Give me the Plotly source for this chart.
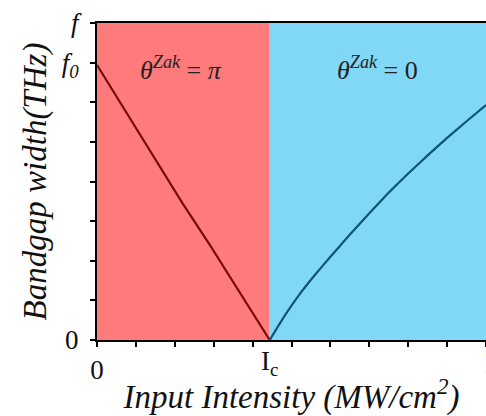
import plotly.graph_objects as go

# Data
I_c = 4.44
x_max = 10
red_x = [0.0, 0.8, 1.5, 2.2, 2.9, 3.6, 4.44]
red_y = [6.94, 5.66, 4.55, 3.45, 2.4, 1.3, 0.0]
blue_x = [4.44, 4.83, 5.22, 5.60, 6.0, 6.5, 7.0, 7.5, 8.0, 8.5, 9.0, 9.5, 10.0]
blue_y = [0.0, 0.62, 1.17, 1.64, 2.1, 2.66, 3.2, 3.72, 4.2, 4.66, 5.1, 5.52, 5.93]

x_tickvals = list(range(0, 11))
x_ticktext = ["0", "", "", "", "", "", "", "", "", "", ""]
y_tickvals = list(range(0, 9))
y_ticktext = ["0", "", "", "", "", "", "", "<i>f</i><sub><i>0</i></sub>", "<i>f</i>"]

font_family = "Times New Roman, Liberation Serif, serif"

fig = go.Figure()
fig.add_trace(go.Scatter(x=red_x, y=red_y, mode="lines",
                         line=dict(color="#7a0a0a", width=2.2),
                         showlegend=False))
fig.add_trace(go.Scatter(x=blue_x, y=blue_y, mode="lines",
                         line=dict(color="#0d5570", width=2.2, shape="spline", smoothing=0.3),
                         showlegend=False))

fig.add_shape(type="rect", xref="x", yref="y", x0=0, x1=I_c, y0=0, y1=8,
              fillcolor="#ff7b7b", line_width=0, layer="below")
fig.add_shape(type="rect", xref="x", yref="y", x0=I_c, x1=x_max, y0=0, y1=8,
              fillcolor="#80d7f6", line_width=0, layer="below")

fig.add_annotation(x=(0 + I_c) / 2 - 0.05, y=6.85, xref="x", yref="y", showarrow=False,
                   text="<i>θ</i><sup><i>Zak</i></sup> = <i>π</i>",
                   font=dict(family=font_family, size=26, color="#222"))
fig.add_annotation(x=7.2, y=6.85, xref="x", yref="y", showarrow=False,
                   text="<i>θ</i><sup><i>Zak</i></sup> = 0",
                   font=dict(family=font_family, size=26, color="#222"))
# I_c label and right-end label
fig.add_annotation(x=I_c, y=0, xref="x", yref="y", yshift=-23, showarrow=False,
                   text="I<sub>c</sub>",
                   font=dict(family=font_family, size=27, color="#111"))
fig.add_annotation(x=x_max, y=0, xref="x", yref="y", yshift=-23, showarrow=False,
                   text="I", xanchor="left", xshift=-3,
                   font=dict(family=font_family, size=27, color="#111"))

fig.update_xaxes(range=[0, x_max], tickvals=x_tickvals, ticktext=x_ticktext,
                 ticks="outside", ticklen=5, tickwidth=2, tickcolor="black",
                 showline=True, linecolor="black", linewidth=2, mirror=True,
                 showgrid=False, zeroline=False,
                 tickfont=dict(family=font_family, size=27, color="#111"),
                 title=dict(text="<i>Input Intensity (MW/cm<sup>2</sup>)</i>",
                            font=dict(family=font_family, size=33, color="#111"),
                            standoff=3))
fig.update_yaxes(range=[0, 8], tickvals=y_tickvals, ticktext=y_ticktext,
                 ticks="outside", ticklen=5, tickwidth=2, tickcolor="black",
                 showline=True, linecolor="black", linewidth=2,
                 showgrid=False, zeroline=False, ticklabelstandoff=6,
                 tickfont=dict(family=font_family, size=27, color="#111"),
                 title=dict(text="<i>Bandgap width(THz)</i>",
                            font=dict(family=font_family, size=33, color="#111"),
                            standoff=5))

fig.update_layout(width=486, height=416, margin=dict(l=97, r=0, t=23, b=76),
                  plot_bgcolor="white", paper_bgcolor="white")

fig.write_html("out.html")
